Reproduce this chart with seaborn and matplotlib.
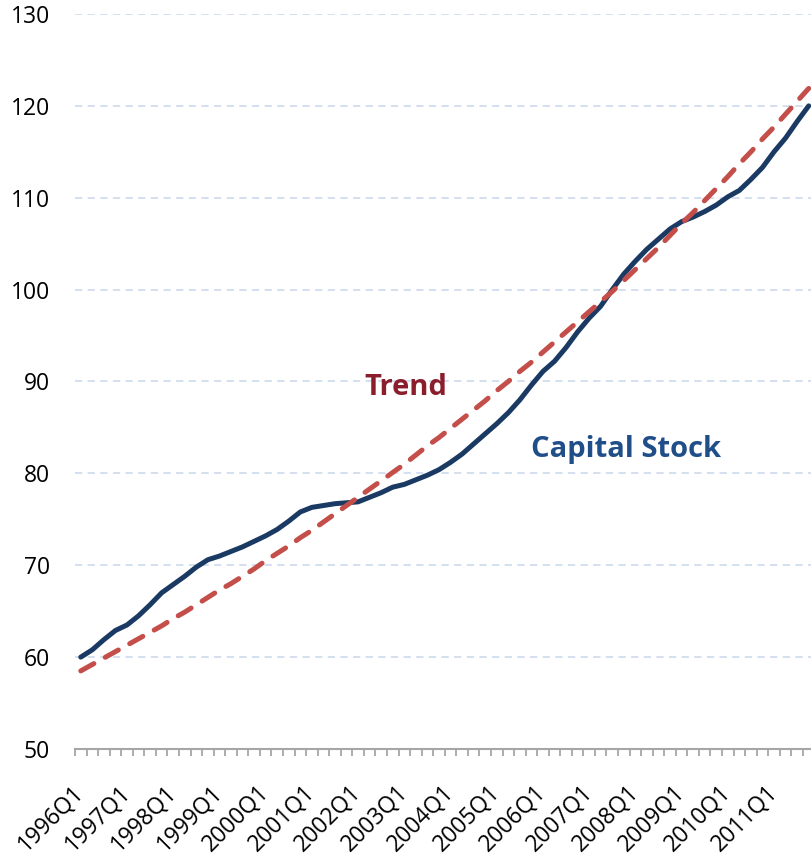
import numpy as np
import pandas as pd
import seaborn as sns
import matplotlib.pyplot as plt
from matplotlib.ticker import FixedLocator

# quarterly categories 1996Q1 .. 2011Q4
quarters = [f"{y}Q{q}" for y in range(1996, 2012) for q in range(1, 5)]

capital_stock = [
    60.0, 60.8, 61.9, 62.9, 63.5, 64.5, 65.7, 67.0,
    67.9, 68.8, 69.8, 70.6, 71.0, 71.5, 72.0, 72.6,
    73.2, 73.9, 74.8, 75.8, 76.3, 76.5, 76.7, 76.8,
    76.9, 77.4, 77.9, 78.5, 78.8, 79.3, 79.8, 80.4,
    81.2, 82.1, 83.2, 84.3, 85.4, 86.6, 88.0, 89.6,
    91.1, 92.2, 93.7, 95.4, 96.9, 98.2, 100.0, 101.7,
    103.1, 104.4, 105.5, 106.6, 107.4, 107.9, 108.5, 109.2,
    110.1, 110.8, 112.0, 113.3, 115.0, 116.5, 118.3, 120.0,
]

trend = [
    58.5, 59.2, 59.9, 60.6, 61.3, 62.0, 62.7, 63.4,
    64.2, 64.9, 65.7, 66.5, 67.3, 68.0, 68.8, 69.6,
    70.5, 71.3, 72.1, 73.0, 73.8, 74.7, 75.6, 76.5,
    77.4, 78.3, 79.2, 80.1, 81.0, 82.0, 83.0, 83.9,
    84.9, 85.9, 86.9, 87.9, 89.0, 90.0, 91.1, 92.1,
    93.2, 94.3, 95.4, 96.5, 97.6, 98.7, 99.8, 101.0,
    102.2, 103.4, 104.6, 105.9, 107.2, 108.4, 109.7, 111.0,
    112.3, 113.7, 115.0, 116.4, 117.7, 119.1, 120.5, 121.9,
]

y_ticks = [50, 60, 70, 80, 90, 100, 110, 120, 130]

df = pd.DataFrame({
    "idx": np.arange(len(quarters)),
    "quarter": quarters,
    "Capital Stock": capital_stock,
    "Trend": trend,
})

sns.set_style("white")
plt.rcParams["font.family"] = ["Open Sans", "DejaVu Sans"]

fig = plt.figure(figsize=(8.11, 8.55), dpi=100)
ax = fig.add_axes([75 / 811, 1 - 749 / 855, 1 - 75 / 811, (749 - 14) / 855])

# dashed horizontal gridlines
for y in y_ticks[1:]:
    ax.axhline(y, color="#D0DCEF", lw=1.3, ls=(0, (4, 3)), zorder=0)

sns.lineplot(data=df, x="idx", y="Capital Stock", ax=ax, color="#1B3A63",
             lw=3.6, solid_capstyle="round", solid_joinstyle="round", zorder=3)
sns.lineplot(data=df, x="idx", y="Trend", ax=ax, color="#C44E4A",
             lw=3.6, linestyle=(0, (3, 2.6)), dash_capstyle="round", zorder=4)

ax.set_ylim(50, 130)
ax.set_xlim(-0.5, 63.2)
ax.set_yticks(y_ticks)
ax.set_yticklabels([str(v) for v in y_ticks], fontsize=16.5, color="black")
ax.tick_params(axis="y", length=0, pad=18)

major_pos = list(range(0, len(quarters), 4))
ax.set_xticks(major_pos)
ax.set_xticklabels([quarters[i] for i in major_pos], fontsize=16.5, color="black",
                   rotation=45, ha="right", va="center", rotation_mode="anchor")
ax.xaxis.set_minor_locator(FixedLocator(np.arange(-0.5, 63, 1.0)))
ax.tick_params(axis="x", which="major", length=0, pad=29)
ax.tick_params(axis="x", which="minor", bottom=True, length=5, width=1.3,
               color="#A6A6A6", direction="out")

ax.set_xlabel("")
ax.set_ylabel("")
for s in ["left", "right", "top"]:
    ax.spines[s].set_visible(False)
ax.spines["bottom"].set_color("#A6A6A6")
ax.spines["bottom"].set_linewidth(1.5)

ax.text(28.1, 89.4, "Trend", color="#8B1E2D", fontsize=21, fontweight="bold",
        ha="center", va="center")
ax.text(47.2, 82.6, "Capital Stock", color="#1F4E89", fontsize=21,
        fontweight="bold", ha="center", va="center")

fig.savefig("out.png", dpi=100)
